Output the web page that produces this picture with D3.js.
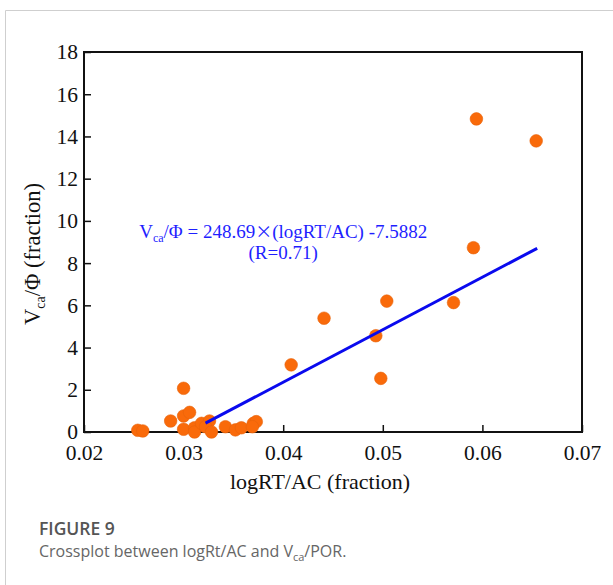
<!DOCTYPE html>
<html>
<head>
<meta charset="utf-8">
<script src="https://cdn.jsdelivr.net/npm/d3@7"></script>
<style>
  body { margin: 0; background: #fff; }
  svg { display: block; }
</style>
</head>
<body>
<div id="chart"></div>
<script>
// logRT/AC (fraction) vs Vca/POR (fraction)
const logRtAc = [0.0254, 0.0259, 0.0287, 0.0300, 0.0300, 0.0306, 0.0300, 0.0311, 0.0311, 0.0318,
  0.0326, 0.0322, 0.0328, 0.0342, 0.0352, 0.0358, 0.0370, 0.0373, 0.0369, 0.0408,
  0.0441, 0.0493, 0.0498, 0.0504, 0.0571, 0.0594, 0.0654, 0.0591];
const vcaPor = [0.08, 0.05, 0.52, 2.07, 0.76, 0.93, 0.13, 0.2, 0.0, 0.41,
  0.52, 0.25, 0.0, 0.25, 0.1, 0.2, 0.41, 0.49, 0.25, 3.18,
  5.39, 4.56, 2.54, 6.2, 6.13, 14.83, 13.79, 8.73];

const fitSlope = 248.69;
const fitIntercept = -7.5882;
const fitRange = [0.0322, 0.0655];

const xTicks = [0.02, 0.03, 0.04, 0.05, 0.06, 0.07];
const yTicks = [0, 2, 4, 6, 8, 10, 12, 14, 16, 18];

const width = 613;
const height = 585;

const margin = { top: 52, right: 31, bottom: 153, left: 84 };
const innerWidth = width - margin.left - margin.right;
const innerHeight = height - margin.top - margin.bottom;

const svg = d3.select('#chart')
  .append('svg')
    .attr('width', width)
    .attr('height', height);

// card border
svg.append('path')
  .attr('d', `M5.5,${height} V10.5 H${width}`)
  .attr('fill', 'none')
  .attr('stroke', '#cfcfcf')
  .attr('stroke-width', 1);

const xScale = d3.scaleLinear()
  .domain([0.02, 0.07])
  .range([0, innerWidth]);

const yScale = d3.scaleLinear()
  .domain([0, 18])
  .range([innerHeight, 0]);

const inner = svg.append('g')
  .attr('transform', `translate(${margin.left}, ${margin.top})`);

const serif = '"Liberation Serif", "Times New Roman", serif';

// ticks point inward
const xAxis = d3.axisBottom(xScale)
  .tickValues(xTicks)
  .tickFormat(d3.format('.2f'))
  .tickSizeInner(-7)
  .tickSizeOuter(0)
  .tickPadding(13);

const yAxis = d3.axisLeft(yScale)
  .tickValues(yTicks)
  .tickFormat(d3.format('d'))
  .tickSizeInner(-7)
  .tickSizeOuter(0)
  .tickPadding(6);

inner.append('g')
  .attr('class', 'axis axis-x')
  .attr('transform', `translate(0, ${innerHeight})`)
  .call(xAxis);

inner.append('g')
  .attr('class', 'axis axis-y')
  .call(yAxis);

inner.selectAll('.axis .domain').remove();
inner.selectAll('.axis line').attr('stroke', '#111').attr('stroke-width', 1.5);
inner.selectAll('.axis text')
  .attr('fill', '#111')
  .style('font-family', serif)
  .style('font-size', '21.5px');

// frame
inner.append('rect')
  .attr('width', innerWidth)
  .attr('height', innerHeight)
  .attr('fill', 'none')
  .attr('stroke', '#111')
  .attr('stroke-width', 2);

// points
const points = logRtAc.map((x, i) => ({ x, y: vcaPor[i] }));

inner.selectAll('.dot')
  .data(points)
  .enter().append('circle')
    .attr('class', 'dot')
    .attr('cx', d => xScale(d.x))
    .attr('cy', d => yScale(d.y))
    .attr('r', 6.3)
    .attr('fill', '#f96a0a')
    .attr('stroke', '#e8630a')
    .attr('stroke-width', 0.6);

// regression line
const line = d3.line()
  .x(d => xScale(d))
  .y(d => yScale(fitSlope * d + fitIntercept));

inner.append('path')
  .datum(fitRange)
  .attr('d', line)
  .attr('fill', 'none')
  .attr('stroke', '#0a0aee')
  .attr('stroke-width', 3);

// equation
const eq = inner.append('text')
  .attr('x', xScale(0.0400))
  .attr('y', yScale(9.2))
  .attr('text-anchor', 'middle')
  .attr('fill', '#1f1fff')
  .style('font-family', serif)
  .style('font-size', '19px');
eq.append('tspan').text('V');
eq.append('tspan').attr('dy', 4).style('font-size', '12px').text('ca');
eq.append('tspan').attr('dy', -4).text('/Φ = 248.69');
eq.append('tspan').style('font-family', '"Noto Sans CJK SC", sans-serif').style('font-size', '17px').text('×');
eq.append('tspan').text('(logRT/AC) -7.5882');

inner.append('text')
  .attr('x', xScale(0.0400))
  .attr('y', yScale(8.2))
  .attr('text-anchor', 'middle')
  .attr('fill', '#1f1fff')
  .style('font-family', serif)
  .style('font-size', '19px')
  .text('(R=0.71)');

// axis titles
inner.append('text')
  .attr('x', xScale(0.0437))
  .attr('y', innerHeight + 57)
  .attr('text-anchor', 'middle')
  .attr('fill', '#111')
  .style('font-family', serif)
  .style('font-size', '22px')
  .text('logRT/AC (fraction)');

const yTitle = inner.append('text')
  .attr('transform', `translate(-44, ${innerHeight / 2 + 12}) rotate(-90)`)
  .attr('text-anchor', 'middle')
  .attr('fill', '#111')
  .style('font-family', serif)
  .style('font-size', '22.5px');
yTitle.append('tspan').text('V');
yTitle.append('tspan').attr('dy', 5).style('font-size', '14px').text('ca');
yTitle.append('tspan').attr('dy', -5).text('/Φ (fraction)');

// caption
const sans = '"Open Sans", "Noto Sans", sans-serif';

svg.append('text')
  .attr('x', 39)
  .attr('y', 535)
  .attr('fill', '#555')
  .style('font-family', sans)
  .style('font-size', '17.5px')
  .style('font-weight', 600)
  .text('FIGURE 9');

const cap = svg.append('text')
  .attr('x', 39)
  .attr('y', 557)
  .attr('fill', '#666')
  .style('font-family', sans)
  .style('font-size', '16px');
cap.append('tspan').text('Crossplot between logRt/AC and V');
cap.append('tspan').attr('dy', 4).style('font-size', '11px').text('ca');
cap.append('tspan').attr('dy', -4).text('/POR.');
</script>
</body>
</html>
